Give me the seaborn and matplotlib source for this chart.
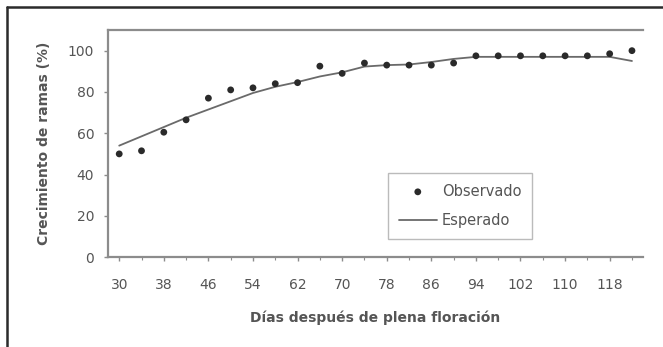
import matplotlib
matplotlib.use("Agg")
import matplotlib.pyplot as plt
from matplotlib.lines import Line2D
import numpy as np
import pandas as pd
import seaborn as sns

# Días después de plena floración (cada 4 días)
dias = [30, 34, 38, 42, 46, 50, 54, 58, 62, 66, 70, 74,
        78, 82, 86, 90, 94, 98, 102, 106, 110, 114, 118, 122]
observado = [50, 51.5, 60.5, 66.5, 77, 81, 82, 84, 84.5, 92.5, 89, 94,
             93, 93, 93, 94, 97.5, 97.5, 97.5, 97.5, 97.5, 97.5, 98.5, 100]
esperado = [54, 58.5, 63, 67.5, 71.5, 75.5, 79.5, 82.5, 84.8, 87.5, 89.5, 92.3,
            93, 93.3, 94.5, 96, 97, 97, 97, 97, 97, 97, 97, 95]
xticks = [30, 38, 46, 54, 62, 70, 78, 86, 94, 102, 110, 118]
yticks = [0, 20, 40, 60, 80, 100]

df = pd.DataFrame({"dias": dias, "Observado": observado, "Esperado": esperado})

sns.set_theme(style="white")
plt.rcParams["font.family"] = ["DejaVu Sans"]

fig = plt.figure(figsize=(6.63, 3.47), dpi=100)
ax = fig.add_axes([0.163, 0.259, 0.807, 0.6545])

text_c = "#555555"
axis_c = "#8c8c8c"

sns.lineplot(data=df, x="dias", y="Esperado", ax=ax, color="#6a6a6a",
             linewidth=1.3, label="Esperado")
sns.scatterplot(data=df, x="dias", y="Observado", ax=ax, color="#2a2a2a",
                s=24, edgecolor="none", label="Observado", zorder=3)

ax.set_xlim(28, 124)
ax.set_ylim(0, 110)
ax.set_xticks(xticks)
ax.set_xticklabels([str(v) for v in xticks])
ax.set_yticks(yticks)
ax.set_xticks(dias, minor=True)

for side in ("left", "top", "bottom"):
    ax.spines[side].set_color(axis_c)
    ax.spines[side].set_linewidth(1.6)
ax.spines["right"].set_visible(False)

ax.tick_params(axis="y", which="major", direction="out", length=3, width=1,
               color=axis_c, labelsize=10, labelcolor=text_c, pad=7, left=True)
ax.tick_params(axis="x", which="major", direction="out", length=3, width=1,
               color=axis_c, labelsize=10, labelcolor=text_c, pad=12, bottom=True)
ax.tick_params(axis="x", which="minor", direction="out", length=2, width=0.8,
               color=axis_c, bottom=True)

ax.set_xlabel("Días después de plena floración", fontsize=10, fontweight="bold",
              color=text_c, labelpad=13)
ax.set_ylabel("Crecimiento de ramas (%)", fontsize=10, fontweight="bold",
              color=text_c, labelpad=12)

handles, labels = ax.get_legend_handles_labels()
order = [labels.index("Observado"), labels.index("Esperado")]
leg = ax.legend([handles[i] for i in order], [labels[i] for i in order],
                loc="lower left", bbox_to_anchor=(0.523, 0.079),
                borderaxespad=0, frameon=True, fancybox=False, fontsize=10.5,
                handlelength=2.6, borderpad=0.75, labelspacing=1.0,
                handletextpad=0.35)
leg.get_frame().set_edgecolor("#aaaaaa")
leg.get_frame().set_linewidth(1.0)
for t in leg.get_texts():
    t.set_color(text_c)

# marco exterior de la figura
fig.add_artist(Line2D([7 / 663, 1.0], [1 - 7 / 347, 1 - 7 / 347],
                      transform=fig.transFigure, color="#2b2b2b", linewidth=1.8))
fig.add_artist(Line2D([7 / 663, 7 / 663], [0, 1 - 7 / 347],
                      transform=fig.transFigure, color="#2b2b2b", linewidth=1.8))

fig.savefig("out.png", dpi=100)
